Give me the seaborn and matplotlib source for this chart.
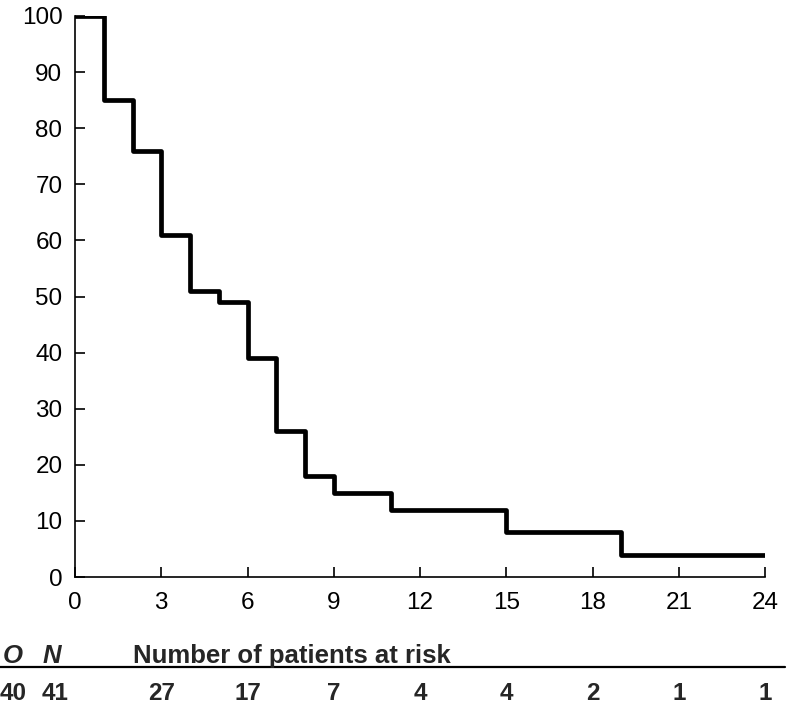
import matplotlib
matplotlib.use("Agg")
import matplotlib.pyplot as plt
import matplotlib.transforms as mtransforms
import seaborn as sns
import pandas as pd

# Data
months = [0, 1, 2, 3, 4, 5, 6, 7, 8, 9, 11, 15, 19, 24]
survival = [100, 85, 76, 61, 51, 49, 39, 26, 18, 15, 12, 8, 4, 4]
x_ticks = [0, 3, 6, 9, 12, 15, 18, 21, 24]
y_ticks = [0, 10, 20, 30, 40, 50, 60, 70, 80, 90, 100]
risk_times = [3, 6, 9, 12, 15, 18, 21, 24]
risk_counts = [27, 17, 7, 4, 4, 2, 1, 1]
observed = 40
total = 41

sns.set_style("ticks")
plt.rcParams['font.family'] = ['Liberation Sans', 'DejaVu Sans']

fig = plt.figure(figsize=(7.89, 7.09), dpi=100)
ax = fig.add_axes([75/789, 1-577/709, 690/789, 561/709])

df = pd.DataFrame({"month": months, "survival": survival})
sns.lineplot(data=df, x="month", y="survival", ax=ax, color="black",
             linewidth=3.4, drawstyle="steps-post", estimator=None)

ax.set_xlim(0, 24)
ax.set_ylim(0, 100)
ax.set_xticks(x_ticks)
ax.set_yticks(y_ticks)
ax.set_xlabel("")
ax.set_ylabel("")
ax.margins(0)
for s in ["top", "right"]:
    ax.spines[s].set_visible(False)
for s in ["left", "bottom"]:
    ax.spines[s].set_linewidth(1.2)
    ax.spines[s].set_color("black")
ax.tick_params(direction="in", length=7, width=1.2, labelsize=17.5, colors="black")
ax.tick_params(axis="y", pad=9)
ax.tick_params(axis="x", pad=11)
for lbl in ax.get_xticklabels() + ax.get_yticklabels():
    lbl.set_clip_on(False)

# Risk table
trans = mtransforms.blended_transform_factory(ax.transData, fig.transFigure)
y_head = 1 - 663/709
y_nums = 1 - 700/709
head_fs = 18.5
num_fs = 17.5
fig.text(3/789, y_head, "O", fontsize=head_fs, fontweight="bold", style="italic", ha="left", va="baseline")
fig.text(43/789, y_head, "N", fontsize=head_fs, fontweight="bold", style="italic", ha="left", va="baseline")
fig.text(133/789, y_head, "Number of patients at risk", fontsize=head_fs, fontweight="bold",
         ha="left", va="baseline")
fig.add_artist(plt.Line2D([0, 785/789], [1-667/709, 1-667/709], color="black", linewidth=1.6,
                          transform=fig.transFigure))
fig.text(0/789, y_nums, str(observed), fontsize=num_fs, fontweight="bold", ha="left", va="baseline")
fig.text(42/789, y_nums, str(total), fontsize=num_fs, fontweight="bold", ha="left", va="baseline")
for t, c in zip(risk_times, risk_counts):
    ax.text(t, y_nums, str(c), transform=trans, fontsize=num_fs, fontweight="bold",
            ha="center", va="baseline", clip_on=False)

fig.savefig("out.png", dpi=100)
